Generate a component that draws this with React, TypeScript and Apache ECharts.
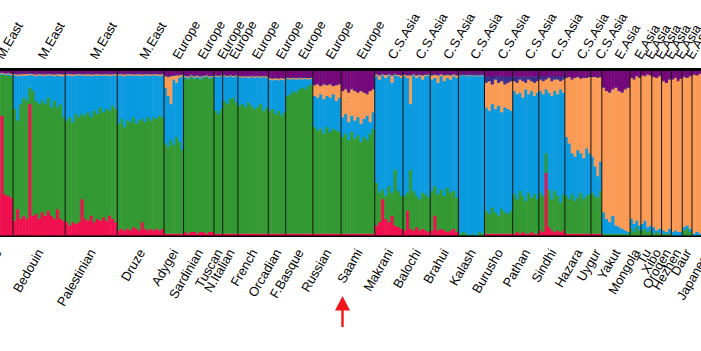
import React, { useEffect, useRef } from 'react';
import * as echarts from 'echarts';

// Population names (bottom labels), regions (top labels) and sample sizes
const populations = ['Mozabite', 'Bedouin', 'Palestinian', 'Druze', 'Adygei', 'Sardinian', 'Tuscan', 'N.Italian', 'French', 'Orcadian', 'F.Basque', 'Russian', 'Saami', 'Makrani', 'Balochi', 'Brahui', 'Kalash', 'Burusho', 'Pathan', 'Sindhi', 'Hazara', 'Uygur', 'Yakut', 'Mongola', 'Tu', 'Xibo', 'Oroqen', 'Hezhen', 'Daur', 'Japanese'];
const regions = ['M.East', 'M.East', 'M.East', 'M.East', 'Europe', 'Europe', 'Europe', 'Europe', 'Europe', 'Europe', 'Europe', 'Europe', 'Europe', 'C.S.Asia', 'C.S.Asia', 'C.S.Asia', 'C.S.Asia', 'C.S.Asia', 'C.S.Asia', 'C.S.Asia', 'C.S.Asia', 'C.S.Asia', 'E.Asia', 'E.Asia', 'E.Asia', 'E.Asia', 'E.Asia', 'E.Asia', 'E.Asia', 'E.Asia'];
const sampleSizes = [29, 48, 48, 43, 18, 28, 8, 14, 28, 16, 25, 26, 31, 26, 25, 26, 24, 26, 24, 24, 24, 10, 26, 10, 10, 9, 9, 10, 9, 28];

// Ancestry components, bottom to top
const clusterColors = ['#F01050', '#339933', '#0A9AE0', '#FB9B55', '#3A2D8F', '#75087A'];

// Each column: cumulative tops of [red, green, blue, orange, navy]; purple fills to 1
const mozabite = [[.24, .975, .98, .985, .99], [.24, .975, .98, .985, .99], [.24, .975, .98, .985, .99], [.24, .975, .98, .985, .99], [.24, .975, .98, .985, .99], [.24, .975, .98, .985, .99], [.73, .98, .985, .99, .993], [.25, .975, .98, .985, .99], [.24, .975, .982, .988, .993], [.23, .97, .978, .985, .99]];
const bedouin = [[.09, .77, .975, .982, .988], [.16, .70, .97, .98, .987], [.10, .80, .975, .983, .99], [.12, .84, .972, .982, .988], [.10, .82, .975, .984, .99], [.80, .90, .978, .985, .99], [.12, .88, .975, .982, .988], [.13, .82, .97, .98, .987], [.10, .80, .975, .983, .99], [.14, .82, .975, .982, .988], [.12, .80, .97, .98, .987], [.15, .84, .975, .983, .99], [.12, .78, .975, .982, .988], [.10, .82, .97, .98, .987], [.16, .78, .975, .983, .99], [.10, .80, .97, .982, .988], [.09, .72, .97, .98, .987]];
const palestinian = [[.08, .70, .975, .982, .988], [.06, .72, .975, .983, .99], [.08, .69, .97, .98, .987], [.07, .74, .975, .982, .988], [.08, .72, .975, .983, .99], [.22, .74, .975, .982, .988], [.10, .73, .972, .98, .987], [.09, .75, .975, .983, .99], [.12, .72, .97, .98, .987], [.08, .76, .975, .982, .988], [.10, .74, .975, .983, .99], [.09, .78, .972, .98, .987], [.11, .75, .975, .982, .988], [.09, .77, .975, .983, .99], [.12, .76, .97, .98, .987], [.10, .79, .975, .982, .988], [.08, .77, .975, .983, .99]];
const druze = [[.03, .68, .975, .982, .988], [.04, .71, .975, .983, .99], [.03, .66, .97, .98, .987], [.04, .70, .975, .982, .988], [.03, .69, .975, .983, .99], [.05, .72, .972, .98, .987], [.04, .68, .975, .982, .988], [.03, .70, .975, .983, .99], [.08, .71, .97, .98, .987], [.04, .69, .975, .982, .988], [.03, .72, .975, .983, .99], [.04, .70, .972, .98, .987], [.03, .72, .975, .982, .988], [.04, .71, .975, .983, .99], [.03, .73, .97, .98, .987], [.04, .72, .975, .982, .988]];
const adygei = [[.01, .56, .90, .97, .975], [.01, .54, .85, .965, .972], [.01, .58, .80, .97, .975], [.01, .55, .95, .972, .978], [.01, .60, .93, .975, .98], [.01, .57, .96, .975, .98], [.01, .52, .97, .978, .983]];
const sardinian = [[.02, .96, .967, .972, .978], [.01, .95, .96, .968, .975], [.02, .965, .97, .975, .98], [.02, .955, .963, .97, .976], [.01, .96, .967, .973, .978], [.02, .95, .96, .967, .975], [.02, .96, .967, .972, .978], [.01, .965, .97, .975, .98], [.02, .955, .963, .97, .976], [.02, .96, .967, .972, .978]];
const tuscan = [[.01, .76, .97, .975, .98], [.01, .74, .965, .972, .978], [.01, .77, .97, .975, .98]];
const nItalian = [[.01, .82, .97, .975, .98], [.01, .80, .965, .972, .978], [.01, .83, .97, .975, .98], [.01, .84, .965, .972, .978], [.01, .81, .97, .975, .98]];
const french = [[.01, .79, .965, .97, .975], [.01, .80, .96, .968, .974], [.01, .78, .965, .97, .975], [.01, .81, .96, .968, .974], [.01, .79, .965, .97, .975], [.01, .77, .96, .968, .974], [.01, .78, .965, .97, .975], [.01, .80, .96, .968, .974], [.01, .76, .965, .97, .975], [.01, .78, .96, .968, .974]];
const orcadian = [[.01, .76, .95, .958, .963], [.01, .77, .945, .955, .96], [.01, .74, .95, .958, .963], [.01, .76, .945, .955, .96], [.01, .73, .95, .958, .963], [.01, .75, .945, .955, .96]];
const fBasque = [[.01, .85, .955, .96, .965], [.01, .86, .95, .958, .963], [.01, .88, .955, .96, .965], [.01, .87, .95, .958, .963], [.01, .89, .955, .96, .965], [.01, .90, .95, .958, .963], [.01, .89, .955, .96, .965], [.01, .91, .95, .958, .963], [.01, .92, .955, .96, .965]];
const russian = [[.01, .66, .85, .915, .92], [.01, .64, .84, .92, .925], [.01, .65, .86, .91, .915], [.01, .62, .83, .92, .925], [.01, .66, .85, .915, .92], [.01, .63, .84, .92, .925], [.01, .65, .86, .91, .915], [.01, .64, .82, .915, .92], [.01, .63, .84, .92, .925]];
const saami = [[.01, .60, .72, .88, .884], [.01, .62, .74, .89, .894], [.01, .58, .69, .87, .874], [.01, .63, .73, .89, .894], [.01, .59, .70, .88, .884], [.01, .61, .72, .87, .874], [.01, .57, .68, .88, .884], [.01, .60, .71, .87, .874], [.01, .58, .73, .86, .864], [.01, .62, .69, .88, .884], [.01, .65, .75, .89, .894]];
const makrani = [[.06, .32, .97, .98, .985], [.08, .26, .95, .975, .983], [.22, .28, .975, .98, .986], [.10, .24, .96, .978, .984], [.08, .30, .975, .98, .986], [.12, .26, .93, .975, .983], [.06, .40, .975, .98, .986], [.05, .27, .97, .978, .984], [.04, .24, .96, .975, .983]];
const balochi = [[.03, .24, .97, .978, .985], [.15, .26, .96, .975, .983], [.04, .40, .80, .975, .983], [.03, .27, .975, .98, .986], [.05, .24, .96, .975, .983], [.03, .22, .97, .978, .985], [.04, .26, .95, .975, .983], [.03, .25, .97, .978, .985], [.02, .23, .975, .98, .986]];
const brahui = [[.03, .27, .95, .975, .983], [.12, .30, .96, .978, .985], [.03, .25, .93, .975, .983], [.04, .28, .97, .98, .986], [.03, .24, .94, .975, .983], [.02, .29, .96, .978, .985], [.03, .26, .95, .975, .983], [.04, .27, .97, .98, .986], [.02, .23, .96, .975, .983]];
const kalash = [[0, .01, .97, .975, .985], [0, .02, .975, .978, .988], [0, .01, .97, .975, .985], [0, 0, .975, .978, .988], [0, .01, .97, .975, .985], [0, 0, .975, .978, .988], [0, .02, .97, .975, .985], [0, .01, .975, .978, .988]];
const burusho = [[.01, .15, .78, .93, .968], [.01, .13, .76, .94, .972], [.01, .17, .80, .92, .965], [.01, .14, .77, .95, .975], [.01, .12, .79, .93, .968], [.01, .16, .75, .94, .972], [.01, .14, .78, .92, .965], [.01, .13, .77, .93, .97], [.01, .15, .76, .94, .968]];
const pathan = [[.01, .25, .88, .94, .968], [.02, .22, .86, .93, .968], [.01, .27, .87, .95, .968], [.02, .24, .84, .94, .968], [.01, .21, .89, .93, .968], [.01, .26, .86, .95, .968], [.02, .23, .88, .94, .968], [.01, .25, .85, .93, .968], [.01, .22, .87, .94, .968]];
const sindhi = [[.03, .26, .88, .95, .97], [.02, .24, .86, .94, .97], [.38, .50, .89, .95, .97], [.05, .28, .87, .96, .972], [.03, .22, .85, .94, .97], [.02, .27, .88, .95, .97], [.03, .24, .86, .95, .97], [.02, .20, .89, .94, .97], [.03, .25, .87, .95, .97]];
const hazara = [[.01, .24, .60, .96, .965], [.01, .22, .56, .965, .97], [.01, .25, .50, .95, .955], [.01, .21, .48, .96, .965], [.01, .23, .52, .965, .97], [.01, .26, .50, .955, .96], [.01, .22, .47, .96, .965], [.01, .24, .53, .96, .965], [.01, .25, .50, .965, .97]];
const uygur = [[.01, .26, .48, .965, .97], [.01, .24, .42, .965, .97], [.01, .23, .36, .96, .965], [.01, .27, .45, .965, .97]];
const yakut = [[0, .01, .14, .90, .905], [0, .01, .10, .88, .885], [0, .01, .08, .87, .875], [0, .01, .12, .89, .895], [0, .01, .06, .90, .905], [0, .01, .05, .88, .885], [0, .01, .04, .87, .875], [0, .01, .03, .89, .895], [0, .01, .02, .90, .905]];
const mongola = [[0, .04, .10, .96, .965], [0, .02, .07, .95, .955], [0, .05, .09, .97, .975], [0, .03, .06, .96, .965]];
const tu = [[0, .03, .07, .975, .978], [0, .04, .09, .97, .973], [0, .02, .05, .98, .983], [0, .03, .06, .975, .978]];
const xibo = [[0, .01, .05, .965, .968], [0, .02, .03, .96, .963], [0, .01, .04, .97, .973]];
const oroqen = [[0, .01, .03, .94, .943], [0, .01, .02, .93, .933], [0, .01, .04, .95, .953]];
const hezhen = [[0, 0, .02, .95, .953], [0, 0, .03, .96, .963], [0, 0, .02, .94, .943], [0, 0, .02, .955, .958]];
const daur = [[0, .03, .05, .965, .968], [0, .04, .06, .96, .963], [0, .02, .04, .97, .973]];
const japanese = [[0, 0, .01, .98, .983], [0, 0, .02, .975, .978], [0, 0, .01, .985, .988], [0, 0, .01, .98, .983], [0, 0, .01, .98, .983], [0, 0, .01, .98, .983], [0, 0, .01, .98, .983], [0, 0, .01, .98, .983], [0, 0, .01, .98, .983]];

const profiles = [mozabite, bedouin, palestinian, druze, adygei, sardinian, tuscan, nItalian, french, orcadian, fBasque, russian, saami, makrani, balochi, brahui, kalash, burusho, pathan, sindhi, hazara, uygur, yakut, mongola, tu, xibo, oroqen, hezhen, daur, japanese];

// visible window of the individual axis
const viewStart = 17.03;
const viewEnd = 662.3;

export default function App() {
  const ref = useRef<HTMLDivElement>(null);

  useEffect(() => {
    if (!ref.current) return;
    const chart = echarts.init(ref.current, undefined, { renderer: 'svg' });

    const columns: number[][] = [];
    const popMarks: number[][] = [];
    let start = 0;
    profiles.forEach((prof, i) => {
      const n = sampleSizes[i];
      const w = n / prof.length;
      prof.forEach((c, j) => {
        columns.push([start + j * w, start + (j + 1) * w, ...c]);
      });
      popMarks.push([start, start + n, start + n / 2, i]);
      start += n;
    });

    const font = "'Liberation Sans', Arial, Helvetica, sans-serif";

    chart.setOption({
      animation: false,
      grid: { left: 0, right: 0, top: 71, bottom: 116, containLabel: false },
      xAxis: [
        {
          type: 'value', position: 'bottom', min: viewStart, max: viewEnd, offset: 1.5,
          axisLine: { show: true, lineStyle: { color: '#000', width: 3 } },
          axisTick: { show: false }, axisLabel: { show: false }, splitLine: { show: false },
        },
        {
          type: 'value', position: 'top', min: viewStart, max: viewEnd, offset: 1.5,
          axisLine: { show: true, lineStyle: { color: '#000', width: 3 } },
          axisTick: { show: false }, axisLabel: { show: false }, splitLine: { show: false },
        },
      ],
      yAxis: { type: 'value', min: 0, max: 1, show: false },
      series: [
        {
          type: 'custom',
          name: 'ancestry',
          silent: true,
          xAxisIndex: 0,
          data: columns,
          encode: { x: [0, 1], y: [2, 3, 4, 5, 6] },
          renderItem: (params: any, api: any) => {
            const x0 = api.value(0);
            const x1 = api.value(1);
            const b = [0, api.value(2), api.value(3), api.value(4), api.value(5), api.value(6), 1];
            const children: any[] = [];
            for (let k = 0; k < 6; k++) {
              if (b[k + 1] <= b[k]) continue;
              const pTop = api.coord([x0, b[k + 1]]);
              const pBot = api.coord([x1, b[k]]);
              children.push({
                type: 'rect',
                shape: { x: pTop[0], y: pTop[1], width: pBot[0] - pTop[0] + 0.5, height: pBot[1] - pTop[1] + 0.4 },
                style: { fill: clusterColors[k] },
              });
            }
            return { type: 'group', children };
          },
        },
        {
          type: 'custom',
          name: 'populations',
          silent: true,
          xAxisIndex: 0,
          data: popMarks,
          encode: { x: [0, 1, 2] },
          renderItem: (params: any, api: any) => {
            const x0 = api.value(0);
            const center = api.value(2);
            const idx = api.value(3);
            const top = api.coord([x0, 1]);
            const bot = api.coord([x0, 0]);
            const cTop = api.coord([center, 1]);
            const cBot = api.coord([center, 0]);
            return {
              type: 'group',
              children: [
                {
                  type: 'line',
                  shape: { x1: top[0], y1: top[1], x2: bot[0], y2: bot[1] },
                  style: { stroke: '#151515', lineWidth: 1 },
                },
                {
                  type: 'text',
                  x: cBot[0] + 1,
                  y: cBot[1] + 15,
                  rotation: Math.PI / 3,
                  style: {
                    text: populations[idx], fill: '#000', fontSize: 13, fontFamily: font,
                    align: 'right', verticalAlign: 'middle', textAlign: 'right', textVerticalAlign: 'middle',
                  },
                },
                {
                  type: 'text',
                  x: cTop[0] + 2,
                  y: cTop[1] - 13,
                  rotation: Math.PI / 3,
                  style: {
                    text: regions[idx], fill: '#000', fontSize: 13, fontFamily: font,
                    align: 'left', verticalAlign: 'middle', textAlign: 'left', textVerticalAlign: 'middle',
                  },
                },
              ],
            };
          },
        },
      ],
      graphic: [
        { type: 'polygon', shape: { points: [[335, 310.5], [350, 310.5], [342.5, 296]] }, style: { fill: '#F2161B' } },
        { type: 'rect', shape: { x: 341.3, y: 310, width: 2.4, height: 17 }, style: { fill: '#F2161B' } },
      ],
    });

    return () => chart.dispose();
  }, []);

  return <div ref={ref} style={{ position: 'absolute', left: 0, top: 0, width: 701, height: 351 }} />;
}
